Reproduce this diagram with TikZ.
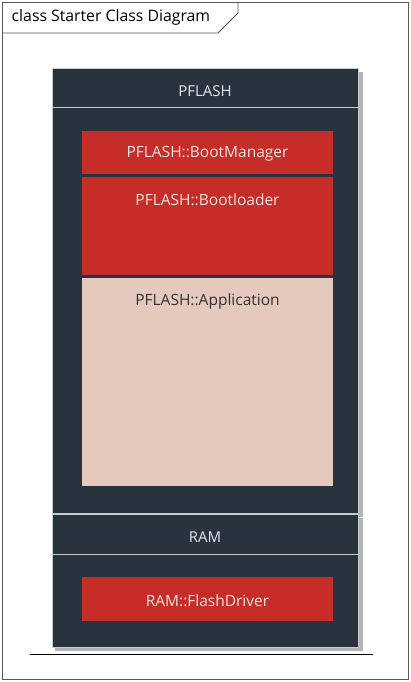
\documentclass[tikz,border=0pt]{standalone}
\usepackage{fontspec}
\setmainfont{Open Sans}
\definecolor{pkgdark}{HTML}{29333D}
\definecolor{pkgline}{HTML}{C8CCD0}
\definecolor{clsred}{HTML}{C62D28}
\definecolor{clspink}{HTML}{E4C9BC}
\definecolor{lighttxt}{HTML}{EDE3E0}
\definecolor{pkgtxt}{HTML}{E2E8EE}
\definecolor{darktxt}{HTML}{333333}
\definecolor{shadowgray}{HTML}{B4B4B4}
\definecolor{framegray}{HTML}{555555}
\begin{document}
\begin{tikzpicture}[x=1pt,y=-1pt,
  pkgbox/.style={fill=pkgdark,draw=pkgline,line width=0.8pt},
  sepline/.style={draw=pkgline,line width=0.8pt},
  pkglabel/.style={text=pkgtxt,font=\fontsize{15}{17}\selectfont},
  clsbox/.style={fill=clsred,draw=none},
  appbox/.style={fill=clspink,draw=none},
  clslabel/.style={text=lighttxt,font=\fontsize{15.5}{17}\selectfont},
  applabel/.style={text=darktxt,font=\fontsize{15.5}{17}\selectfont},
  shadowbox/.style={fill=shadowgray,draw=none}]
\useasboundingbox (0,0) rectangle (411,682);
\fill[white] (0,0) rectangle (411,682);
% frame
\draw[framegray,line width=0.9pt] (2,2) rectangle (408,679);
\coordinate (tabA) at (2,33);
\coordinate (tabB) at (218,33);
\coordinate (tabC) at (238,13);
\coordinate (tabD) at (238,2);
\draw[framegray,line width=0.9pt] (tabA) -- (tabB) -- (tabC) -- (tabD);
\node[anchor=west,inner sep=0pt,text=black,font=\fontsize{15.8}{17}\selectfont] (title) at (11.5,17) {class Starter Class Diagram};
% shadows
\fill[shadowgray] (55,72) rectangle (363,517);
\fill[shadowgray] (55,518) rectangle (363,651);
% PFLASH package
\node[pkgbox,minimum width=306pt,minimum height=445pt,inner sep=0pt,anchor=north west] (pflash) at (52,68) {};
\draw[sepline] (52,107.5) -- (358,107.5);
\node[pkglabel] (pflashlbl) at (205,91) {PFLASH};
\node[clsbox,minimum width=251pt,minimum height=43pt,inner sep=0pt,anchor=north west] (bm) at (82,131) {};
\node[clslabel] at (207.5,154) {PFLASH::BootManager};
\node[clsbox,minimum width=251pt,minimum height=98pt,inner sep=0pt,anchor=north west] (bl) at (82,177) {};
\node[clslabel] at (207.5,200) {PFLASH::Bootloader};
\node[appbox,minimum width=251pt,minimum height=208pt,inner sep=0pt,anchor=north west] (app) at (82,278) {};
\node[applabel] at (207.5,301) {PFLASH::Application};
% RAM package
\node[pkgbox,minimum width=306pt,minimum height=133pt,inner sep=0pt,anchor=north west] (ram) at (52,514) {};
\draw[sepline] (52,554) -- (358,554);
\node[pkglabel] (ramlbl) at (205,537) {RAM};
\node[clsbox,minimum width=251pt,minimum height=44pt,inner sep=0pt,anchor=north west] (fd) at (82,577) {};
\node[clslabel] at (207.5,601) {RAM::FlashDriver};
% bottom line
\coordinate (lineL) at (30,654.5);
\coordinate (lineR) at (373,654.5);
\draw[black,line width=1.5pt] (lineL) -- (lineR);
\end{tikzpicture}
\end{document}
